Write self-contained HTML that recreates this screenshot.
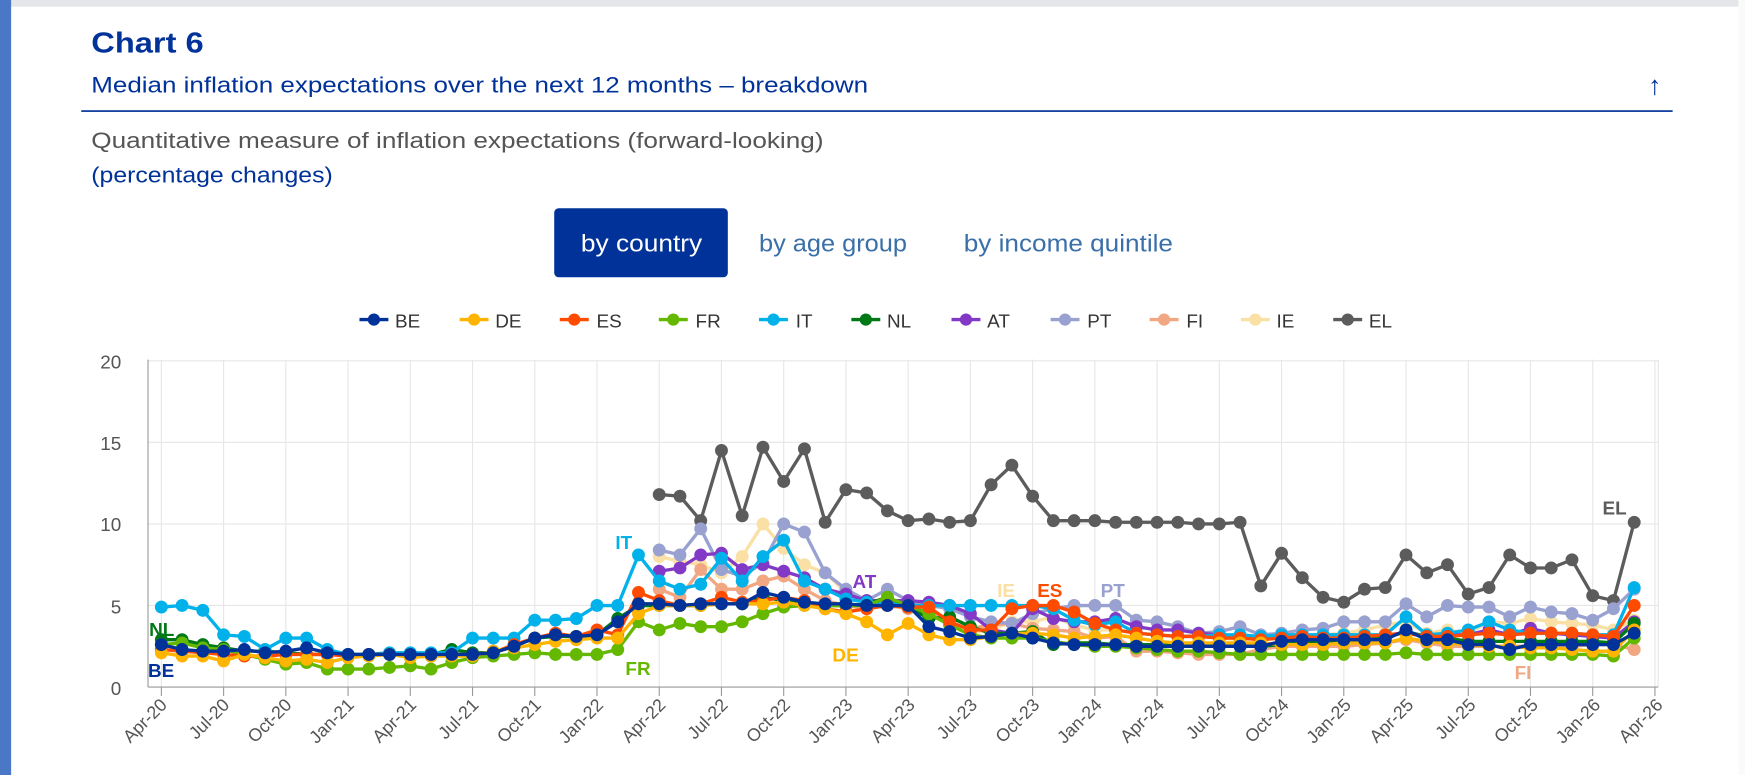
<!DOCTYPE html>
<html><head><meta charset="utf-8">
<style>
html,body{margin:0;padding:0;background:#fff;width:1745px;height:775px;overflow:hidden;}
svg{display:block;font-family:"Liberation Sans",Arial,sans-serif;}
</style></head>
<body>
<svg id="s" width="1745" height="775" viewBox="0 0 1568 696" preserveAspectRatio="none">
<rect x="0" y="0" width="1568" height="696" fill="#fff"/>
<rect x="0" y="0" width="1568" height="6" fill="#e4e6ea"/>
<rect x="0" y="0" width="10" height="696" fill="#4a78c6"/>
<rect x="1562" y="0" width="6" height="696" fill="#fafafa"/>
<text x="82" y="47" font-size="26" font-weight="bold" fill="#003299" textLength="101" lengthAdjust="spacingAndGlyphs">Chart 6</text>
<text x="82" y="83" font-size="20" fill="#003299" textLength="698" lengthAdjust="spacingAndGlyphs">Median inflation expectations over the next 12 months – breakdown</text>
<text x="1487" y="85" font-size="24" fill="#003299" text-anchor="middle" font-weight="bold">↑</text>
<rect x="73" y="99" width="1430" height="1.5" fill="#003299"/>
<text x="82" y="133" font-size="20" fill="#555" textLength="658" lengthAdjust="spacingAndGlyphs">Quantitative measure of inflation expectations (forward-looking)</text>
<text x="82" y="164" font-size="20" fill="#003299" textLength="217" lengthAdjust="spacingAndGlyphs">(percentage changes)</text>
<rect x="498" y="187" width="156" height="62" rx="4" fill="#003299"/>
<text x="522" y="226" font-size="22" fill="#fff" textLength="109" lengthAdjust="spacingAndGlyphs">by country</text>
<text x="682" y="226" font-size="22" fill="#3a6fa8" textLength="133" lengthAdjust="spacingAndGlyphs">by age group</text>
<text x="866" y="226" font-size="22" fill="#3a6fa8" textLength="188" lengthAdjust="spacingAndGlyphs">by income quintile</text>
<g id="legend" font-size="17" fill="#333">
<text x="355" y="294">BE</text><text x="445" y="294">DE</text><text x="536" y="294">ES</text><text x="625" y="294">FR</text><text x="715" y="294">IT</text><text x="797" y="294">NL</text><text x="887" y="294">AT</text><text x="977" y="294">PT</text><text x="1066" y="294">FI</text><text x="1147" y="294">IE</text><text x="1230" y="294">EL</text>
</g>
<g id="grid"></g>
<g font-size="17" fill="#555" text-anchor="end">
<text x="109" y="331">20</text><text x="109" y="404">15</text><text x="109" y="477">10</text><text x="109" y="551">5</text><text x="109" y="624">0</text>
</g>
<g id="xl" font-size="16" fill="#555" text-anchor="end">
<text transform="translate(151,634) rotate(-45)">Apr-20</text>
<text transform="translate(207,634) rotate(-45)">Jul-20</text>
<text transform="translate(263,634) rotate(-45)">Oct-20</text>
<text transform="translate(319,634) rotate(-45)">Jan-21</text>
<text transform="translate(375,634) rotate(-45)">Apr-21</text>
<text transform="translate(431,634) rotate(-45)">Jul-21</text>
<text transform="translate(487,634) rotate(-45)">Oct-21</text>
<text transform="translate(543,634) rotate(-45)">Jan-22</text>
<text transform="translate(599,634) rotate(-45)">Apr-22</text>
<text transform="translate(655,634) rotate(-45)">Jul-22</text>
<text transform="translate(711,634) rotate(-45)">Oct-22</text>
<text transform="translate(767,634) rotate(-45)">Jan-23</text>
<text transform="translate(823,634) rotate(-45)">Apr-23</text>
<text transform="translate(879,634) rotate(-45)">Jul-23</text>
<text transform="translate(935,634) rotate(-45)">Oct-23</text>
<text transform="translate(991,634) rotate(-45)">Jan-24</text>
<text transform="translate(1047,634) rotate(-45)">Apr-24</text>
<text transform="translate(1103,634) rotate(-45)">Jul-24</text>
<text transform="translate(1159,634) rotate(-45)">Oct-24</text>
<text transform="translate(1215,634) rotate(-45)">Jan-25</text>
<text transform="translate(1271,634) rotate(-45)">Apr-25</text>
<text transform="translate(1327,634) rotate(-45)">Jul-25</text>
<text transform="translate(1383,634) rotate(-45)">Oct-25</text>
<text transform="translate(1439,634) rotate(-45)">Jan-26</text>
<text transform="translate(1495,634) rotate(-45)">Apr-26</text>
</g>
<g id="series"></g>
<g font-size="17" font-weight="bold">
<text x="134" y="571" fill="#007816">NL</text>
<text x="133" y="608" fill="#003299">BE</text>
<text x="553" y="493" fill="#00B1EA">IT</text>
<text x="562" y="606" fill="#65B800">FR</text>
<text x="766" y="528" fill="#8139C6">AT</text>
<text x="748" y="594" fill="#FFB400">DE</text>
<text x="896" y="536" fill="#FAE0A5">IE</text>
<text x="932" y="536" fill="#FF4B00">ES</text>
<text x="989" y="536" fill="#98A1D0">PT</text>
<text x="1361" y="610" fill="#F1A782">FI</text>
<text x="1440" y="462" fill="#5C5C5C">EL</text>
</g>
</svg>
<script>
var NS="http://www.w3.org/2000/svg";
function el(t,a,p){var e=document.createElementNS(NS,t);for(var k in a)e.setAttribute(k,a[k]);p.appendChild(e);return e;}
var g=document.getElementById('grid');
var L=133,R=1490,T=323,B=617;
function X(i){return 145+i*18.64;}
function Y(v){return 617-v*14.65;}
for(var v=5;v<=20;v+=5)el('line',{x1:L,x2:R,y1:Y(v),y2:Y(v),stroke:'#e6e6e6','stroke-width':1},g);
for(var q=0;q<=24;q++){var x=145+q*3*18.64;el('line',{x1:x,x2:x,y1:T,y2:B,stroke:'#e6e6e6','stroke-width':1},g);el('line',{x1:x,x2:x,y1:B,y2:B+8,stroke:'#999','stroke-width':1},g);}
el('line',{x1:R,x2:R,y1:T,y2:B,stroke:'#e6e6e6'},g);
el('line',{x1:L,x2:L,y1:T,y2:B,stroke:'#999'},g);
el('line',{x1:L,x2:R,y1:B,y2:B,stroke:'#999'},g);
var BE=[2.6,2.3,2.2,2.2,2.3,2.1,2.2,2.4,2.1,2.0,2.0,2.0,2.0,2.0,2.0,2.0,2.1,2.5,3.0,3.2,3.1,3.2,4.0,5.1,5.1,5.0,5.1,5.1,5.1,5.8,5.5,5.2,5.1,5.1,5.0,5.0,5.0,3.7,3.4,3.0,3.1,3.3,3.0,2.7,2.6,2.6,2.6,2.5,2.5,2.5,2.5,2.5,2.5,2.5,2.8,2.9,2.9,2.9,2.9,2.9,3.5,2.9,2.9,2.6,2.6,2.3,2.6,2.6,2.6,2.6,2.6,3.3];
var FR=[2.6,2.7,2.4,2.3,2.0,1.7,1.4,1.5,1.1,1.1,1.1,1.2,1.3,1.1,1.5,1.8,1.9,2.0,2.1,2.0,2.0,2.0,2.3,4.0,3.5,3.9,3.7,3.7,4.0,4.5,4.9,5.0,5.0,5.0,5.0,5.5,5.0,4.5,3.8,3.2,3.0,3.0,3.0,2.8,2.6,2.5,2.5,2.4,2.3,2.2,2.2,2.1,2.0,2.0,2.0,2.0,2.0,2.0,2.0,2.0,2.1,2.0,2.0,2.0,2.0,2.0,2.0,2.0,2.0,2.0,1.9,3.0];
var IT=[4.9,5.0,4.7,3.2,3.1,2.3,3.0,3.0,2.3,2.0,2.0,2.1,2.1,2.1,2.1,3.0,3.0,3.0,4.1,4.1,4.2,5.0,5.0,8.1,6.5,6.0,6.3,7.9,6.5,8.0,9.0,6.5,6.0,5.4,5.2,5.1,5.0,5.0,5.0,5.0,5.0,5.0,5.0,4.8,4.1,3.8,4.0,3.3,3.2,3.1,3.1,3.2,3.2,3.1,3.2,3.2,3.2,3.2,3.2,3.2,4.3,3.2,3.3,3.5,4.0,3.5,3.3,3.3,3.3,3.2,3.2,6.1];
var DE=[2.1,1.9,1.9,1.6,2.0,1.8,1.6,1.7,1.5,1.8,1.9,2.0,1.8,1.9,1.9,1.9,2.2,2.4,2.6,2.8,2.9,3.0,3.0,4.5,5.0,5.0,5.0,5.1,5.1,5.1,5.2,5.0,4.8,4.5,4.0,3.2,3.9,3.2,2.9,2.9,3.1,3.3,3.3,3.2,3.0,3.1,3.2,3.0,2.8,2.7,2.7,2.7,2.7,2.7,2.6,2.6,2.6,2.7,2.7,2.7,3.0,2.8,2.7,2.6,2.5,2.5,2.4,2.4,2.3,2.2,2.2,3.5];
var ES=[2.3,2.2,2.1,2.0,1.9,1.9,2.0,2.0,2.0,1.9,2.0,2.0,1.9,1.9,2.0,2.0,2.1,2.6,3.0,3.3,3.1,3.5,3.2,5.8,5.3,5.0,5.1,5.5,5.2,5.3,5.5,5.3,4.8,4.6,4.8,5.0,4.9,4.9,4.0,3.5,3.5,4.8,5.0,5.0,4.6,3.9,3.5,3.3,3.2,3.1,3.1,3.0,3.0,2.9,3.0,3.1,3.0,3.0,3.1,3.2,3.3,3.1,3.1,3.2,3.3,3.2,3.3,3.3,3.3,3.2,3.1,5.0];
var NL=[2.9,2.9,2.6,2.4,2.2,2.2,2.1,2.0,2.0,2.0,2.0,2.0,2.0,2.0,2.3,2.1,2.1,2.5,3.0,3.1,3.1,3.2,4.2,5.0,5.0,5.0,5.0,5.1,5.1,5.5,5.3,5.1,5.0,5.0,5.1,5.5,4.9,4.2,4.3,3.7,3.3,3.3,3.4,2.6,2.7,2.7,2.6,2.6,2.6,2.6,2.6,2.5,2.5,2.5,2.6,2.7,2.8,2.8,2.9,3.0,3.4,3.1,3.0,2.8,2.8,2.8,2.8,2.8,2.8,2.8,2.7,3.9];
var AT=[7.1,7.3,8.1,8.2,7.2,7.5,7.1,6.7,6.0,5.7,5.3,5.3,5.3,5.2,5.0,4.5,3.5,3.3,4.8,4.2,4.0,4.0,4.2,3.7,3.5,3.5,3.3,3.2,3.0,3.0,3.0,2.9,3.0,3.0,3.1,3.2,3.3,3.1,3.2,3.2,3.5,3.2,3.6,3.3,3.2,3.1,3.0,4.0];
var PT=[8.4,8.1,9.7,7.2,6.8,7.6,10.0,9.5,7.0,6.0,5.3,6.0,5.3,5.0,4.8,4.3,4.0,3.9,4.5,4.8,5.0,5.0,5.0,4.1,4.0,3.7,3.3,3.4,3.7,3.2,3.3,3.5,3.6,4.0,4.0,4.0,5.1,4.3,5.0,4.9,4.9,4.3,4.9,4.6,4.5,4.1,4.8,6.0];
var FI=[6.0,5.5,7.2,6.0,6.0,6.5,6.8,6.0,5.3,5.0,4.8,5.0,4.8,4.7,3.8,3.6,3.8,3.9,3.6,3.5,3.4,3.0,3.1,2.2,2.2,2.1,2.0,2.0,2.0,2.3,2.5,2.5,2.5,2.5,2.6,2.7,2.9,2.7,2.5,2.5,2.5,2.5,2.5,2.5,2.5,2.6,2.6,2.3];
var IE=[8.0,7.7,7.5,7.0,8.0,10.0,8.5,7.5,7.0,5.8,5.3,5.2,5.0,4.8,4.0,3.3,3.5,4.0,4.0,4.3,3.8,3.5,3.5,3.3,3.2,3.1,3.2,3.0,2.9,3.0,3.0,3.1,3.2,3.3,3.5,3.8,4.0,3.3,3.5,3.3,4.0,3.9,4.2,4.0,3.9,3.8,3.5,4.1];
var EL=[11.8,11.7,10.2,14.5,10.5,14.7,12.6,14.6,10.1,12.1,11.9,10.8,10.2,10.3,10.1,10.2,12.4,13.6,11.7,10.2,10.2,10.2,10.1,10.1,10.1,10.1,10.0,10.0,10.1,6.2,8.2,6.7,5.5,5.2,6.0,6.1,8.1,7.0,7.5,5.7,6.1,8.1,7.3,7.3,7.8,5.6,5.3,10.1];
var S=[[EL,24,'#5C5C5C'],[IE,24,'#FAE0A5'],[FI,24,'#F1A782'],[PT,24,'#98A1D0'],[AT,24,'#8139C6'],[NL,0,'#007816'],[IT,0,'#00B1EA'],[FR,0,'#65B800'],[ES,0,'#FF4B00'],[DE,0,'#FFB400'],[BE,0,'#003299']];
var sg=document.getElementById('series');
S.forEach(function(s){var pts=s[0].map(function(v,i){return X(i+s[1]).toFixed(1)+','+Y(v).toFixed(1);}).join(' ');
el('polyline',{points:pts,fill:'none',stroke:s[2],'stroke-width':3,'stroke-linejoin':'round'},sg);
s[0].forEach(function(v,i){el('circle',{cx:X(i+s[1]),cy:Y(v),r:5.8,fill:s[2]},sg);});});
var lg=document.getElementById('legend');
var lx=[336,426,516,605,695,778,868,957,1046,1128,1211],cols=['#003299','#FFB400','#FF4B00','#65B800','#00B1EA','#007816','#8139C6','#98A1D0','#F1A782','#FAE0A5','#5C5C5C'];
lx.forEach(function(x,i){el('line',{x1:x-13,x2:x+13,y1:287,y2:287,stroke:cols[i],'stroke-width':3},lg);el('circle',{cx:x,cy:287,r:5.5,fill:cols[i]},lg);});
</script>
</body></html>
